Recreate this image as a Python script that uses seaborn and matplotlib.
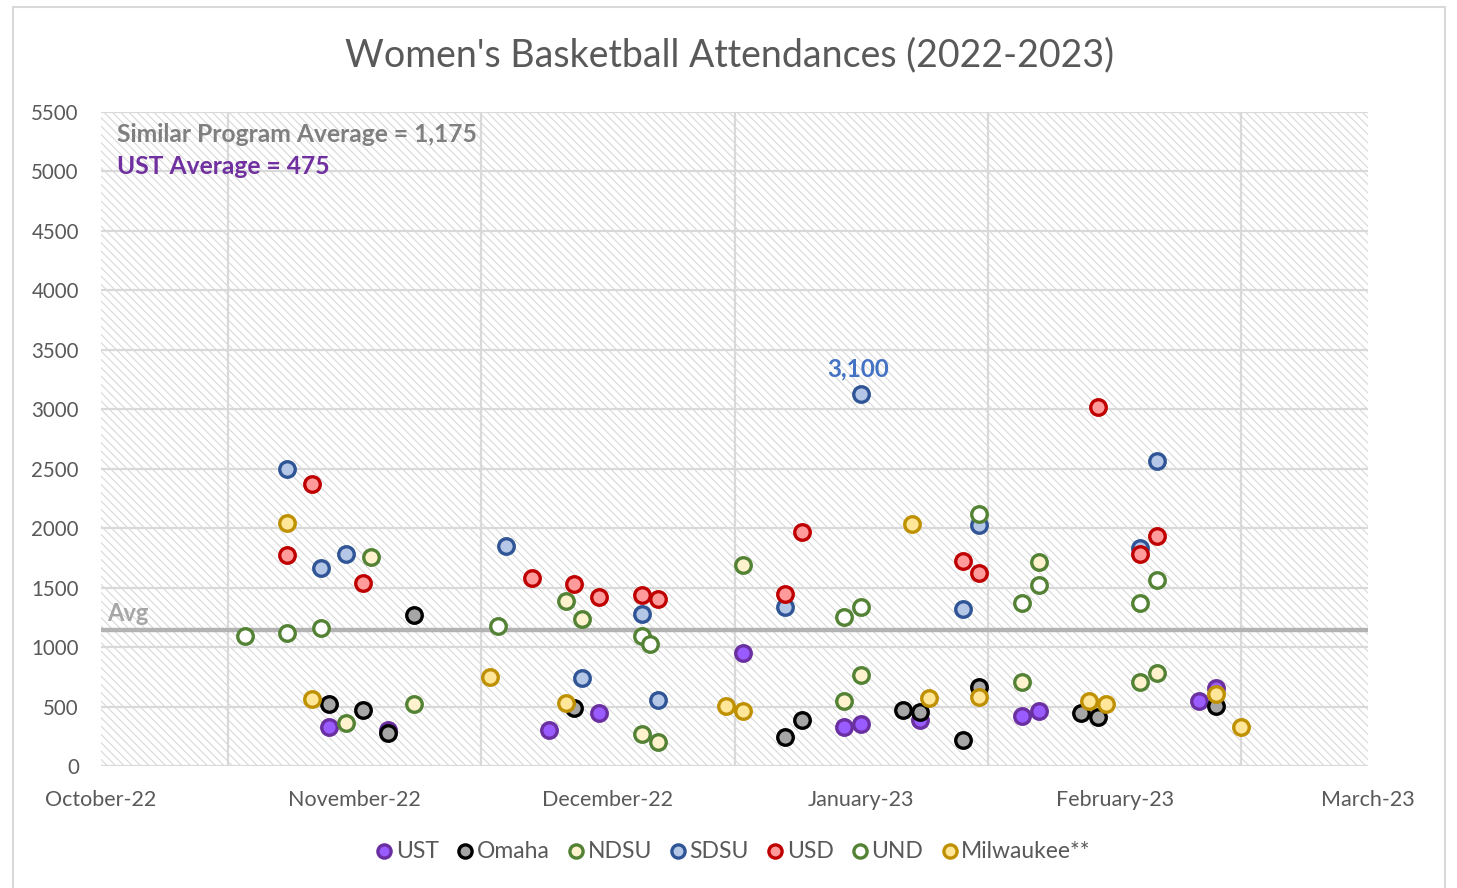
import matplotlib
matplotlib.use("Agg")
import matplotlib.pyplot as plt
import matplotlib.dates as mdates
from matplotlib.patches import Rectangle
import pandas as pd
import seaborn as sns

# Datos (fecha del partido, asistencia)
ust_dates = ["2022-11-11", "2022-11-18", "2022-12-07", "2022-12-13", "2022-12-30", "2023-01-11",
             "2023-01-13", "2023-01-20", "2023-02-01", "2023-02-03", "2023-02-22", "2023-02-24"]
ust_att = [328, 305, 303, 443, 953, 325, 353, 387, 420, 462, 547, 653]

omaha_dates = ["2022-11-11", "2022-11-15", "2022-11-18", "2022-11-21", "2022-12-10", "2023-01-04",
               "2023-01-06", "2023-01-18", "2023-01-20", "2023-01-25", "2023-01-27", "2023-02-08",
               "2023-02-10", "2023-02-24"]
omaha_att = [519, 471, 280, 1270, 485, 244, 387, 471, 457, 219, 667, 449, 415, 505]

ndsu_dates = ["2022-11-13", "2022-11-16", "2022-11-21", "2022-12-09", "2022-12-11", "2022-12-18",
              "2022-12-20", "2022-12-30", "2023-01-11", "2023-01-13", "2023-02-01", "2023-02-03",
              "2023-02-15", "2023-02-17"]
ndsu_att = [359, 1755, 521, 1385, 1234, 269, 205, 1690, 544, 763, 709, 1718, 704, 780]

sdsu_dates = ["2022-11-06", "2022-11-10", "2022-11-13", "2022-12-02", "2022-12-11", "2022-12-18",
              "2022-12-20", "2023-01-04", "2023-01-13", "2023-01-25", "2023-01-27", "2023-02-15",
              "2023-02-17"]
sdsu_att = [2495, 1668, 1783, 1853, 737, 1276, 552, 1340, 3130, 1318, 2027, 1836, 2565]

usd_dates = ["2022-11-06", "2022-11-09", "2022-11-15", "2022-12-05", "2022-12-10", "2022-12-13",
             "2022-12-18", "2022-12-20", "2023-01-04", "2023-01-06", "2023-01-25", "2023-01-27",
             "2023-02-10", "2023-02-15", "2023-02-17"]
usd_att = [1775, 2369, 1542, 1584, 1531, 1418, 1438, 1402, 1444, 1965, 1727, 1626, 3022, 1783, 1934]

und_dates = ["2022-11-01", "2022-11-06", "2022-11-10", "2022-12-01", "2022-12-18", "2022-12-19",
             "2023-01-11", "2023-01-13", "2023-01-27", "2023-02-01", "2023-02-03", "2023-02-15",
             "2023-02-17"]
und_att = [1096, 1121, 1161, 1177, 1093, 1023, 1256, 1340, 2117, 1374, 1522, 1368, 1564]

milw_dates = ["2022-11-06", "2022-11-09", "2022-11-30", "2022-12-09", "2022-12-28", "2022-12-30",
              "2023-01-19", "2023-01-21", "2023-01-27", "2023-02-09", "2023-02-11", "2023-02-24",
              "2023-02-27"]
milw_att = [2041, 561, 751, 532, 507, 462, 2035, 575, 583, 547, 521, 606, 331]

teams = ["UST", "Omaha", "NDSU", "SDSU", "USD", "UND", "Milwaukee**"]
team_dates = [ust_dates, omaha_dates, ndsu_dates, sdsu_dates, usd_dates, und_dates, milw_dates]
team_att = [ust_att, omaha_att, ndsu_att, sdsu_att, usd_att, und_att, milw_att]

face_colors = ["#9a5cff", "#a6a6a6", "#fff2cc", "#b4c7e7", "#ff9b9b", "#ffffff", "#ffe699"]
edge_colors = ["#6a2fa0", "#000000", "#548235", "#2f5597", "#c00000", "#548235", "#bf9000"]

avg_line = 1140
peak_label = "3,100"

rows = []
for team, dates, vals in zip(teams, team_dates, team_att):
    for d, v in zip(dates, vals):
        rows.append({"team": team, "fecha": pd.Timestamp(d), "asistencia": v})
df = pd.DataFrame(rows)

sns.set_theme(style="white")
plt.rcParams["font.family"] = ["Lato", "DejaVu Sans"]
plt.rcParams["hatch.linewidth"] = 0.7

fig = plt.figure(figsize=(14.57, 8.88), dpi=100)
ax = fig.add_axes([101 / 1457, 1 - 766 / 888, 1267 / 1457, 654 / 888])

# fondo rayado estilo Excel
ax.add_patch(Rectangle((0, 0), 1, 1, transform=ax.transAxes, facecolor="white",
                       edgecolor="#d3d3d3", hatch="\\" * 4, lw=0, zorder=0))

for team, fc, ec in zip(teams, face_colors, edge_colors):
    sub = df[df["team"] == team]
    sns.scatterplot(data=sub, x="fecha", y="asistencia", ax=ax, s=125, color=fc,
                    edgecolor=ec, linewidth=2.4, label=team, zorder=3)

ax.axhline(avg_line, color="#b3b3b3", lw=3.2, zorder=2)
ax.text(0.005, avg_line + 140, "Avg", transform=ax.get_yaxis_transform(), color="#a6a6a6",
        fontsize=17, fontweight="bold", va="center", ha="left")

peak = df.loc[df["asistencia"].idxmax()]
ax.annotate(peak_label, (peak["fecha"], peak["asistencia"]), xytext=(-2, 18),
            textcoords="offset points", ha="center", va="center", color="#4472c4",
            fontsize=17.5, fontweight="bold", zorder=4)

ax.text(0.0126, 0.966, "Similar Program Average = 1,175", transform=ax.transAxes,
        color="#7f7f7f", fontsize=17.7, fontweight="bold", va="center", ha="left")
ax.text(0.0126, 0.916, "UST Average = 475", transform=ax.transAxes,
        color="#7030a0", fontsize=17.7, fontweight="bold", va="center", ha="left")

start = pd.Timestamp("2022-10-15")
ax.set_xlim(start, pd.Timestamp("2023-03-14"))
ax.set_ylim(0, 5500)
ax.set_yticks(range(0, 5501, 500))
ax.set_xticks(pd.date_range(start, periods=6, freq="30D"))
ax.set_xticks(pd.date_range(start + pd.Timedelta(days=15), periods=5, freq="30D"), minor=True)
ax.xaxis.set_major_formatter(mdates.DateFormatter("%B-%y"))
ax.set_axisbelow(True)
ax.grid(axis="y", color="#d9d9d9", lw=1.6)
ax.grid(axis="x", which="minor", color="#d9d9d9", lw=1.6)
ax.grid(axis="x", which="major", visible=False)
ax.tick_params(axis="y", which="both", length=0, labelsize=14.8, colors="#595959", pad=16)
ax.tick_params(axis="x", which="both", length=0, labelsize=15.5, colors="#595959", pad=17)
ax.set_xlabel("")
ax.set_ylabel("")
for s in ax.spines.values():
    s.set_visible(False)

handles, labels = ax.get_legend_handles_labels()
ax.get_legend().remove()
fig.legend(handles, labels, loc="center", bbox_to_anchor=(733 / 1457, 1 - 851 / 888), ncol=7,
           frameon=False, fontsize=16.5, labelcolor="#595959", handletextpad=0.1,
           handlelength=0.8, columnspacing=0.75, markerscale=0.85)

fig.text(730 / 1457, 1 - 55 / 888, "Women's Basketball Attendances (2022-2023)", ha="center",
         va="center", fontsize=27, color="#595959")

fig.patches.append(Rectangle((13 / 1457, -0.02), 1432 / 1457, 1.02 - 7 / 888, transform=fig.transFigure,
                             fill=False, edgecolor="#d9d9d9", lw=1.5))

fig.savefig("out.png", dpi=100)
